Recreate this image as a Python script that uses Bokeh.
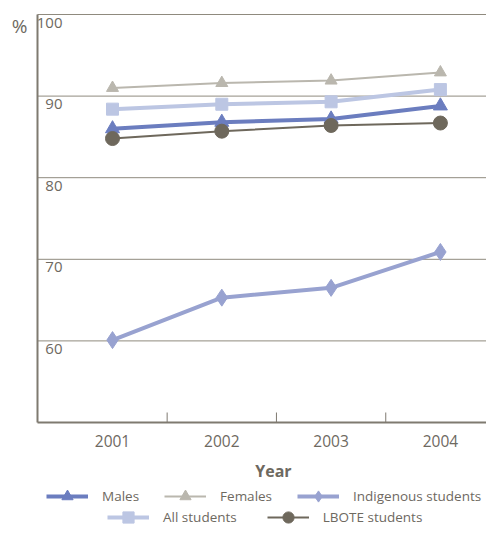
import math
from bokeh.plotting import figure
from bokeh.models import ColumnDataSource, Range1d, Legend, LegendItem
from bokeh.core.properties import value
from bokeh.embed import file_html
from bokeh.resources import INLINE

years = ["2001", "2002", "2003", "2004"]
males = [86.0, 86.8, 87.2, 88.8]
females = [91.0, 91.6, 91.9, 92.9]
indigenous = [60.1, 65.3, 66.5, 70.9]
all_students = [88.4, 89.0, 89.3, 90.8]
lbote = [84.8, 85.7, 86.4, 86.7]
y_ticks = [60, 70, 80, 90, 100]
minor_x = [0.5, 1.5, 2.5]

FONT = "Open Sans"
TXT = "#6e695f"
GRID = "#8f8a7e"
AXIS = "#7f7a70"

W, H = 486, 525
# pixel layout of the plotting area inside the figure
AX_LEFT_PX, FIRST_CAT_PX, CAT_STEP_PX = 37, 112, 109.3
TOP_PX, BOT_PX = 14, 422
Y_LO, Y_HI = 50, 100

xs = list(range(len(years)))
ppu_y = (BOT_PX - TOP_PX) / (Y_HI - Y_LO)
x_start = -FIRST_CAT_PX / CAT_STEP_PX
x_end = (W - FIRST_CAT_PX) / CAT_STEP_PX
x_axis = -(FIRST_CAT_PX - AX_LEFT_PX) / CAT_STEP_PX
y_end = Y_HI + TOP_PX / ppu_y
y_start = Y_HI - (H - TOP_PX) / ppu_y

p = figure(width=W, height=H, output_backend="svg", toolbar_location=None,
           x_range=Range1d(x_start, x_end), y_range=Range1d(y_start, y_end),
           x_axis_location=None, y_axis_location=None,
           min_border=0)
p.outline_line_color = None
p.grid.visible = False
p.background_fill_color = "white"
p.border_fill_color = "white"

# gridlines
n = len(y_ticks)
p.segment(x0=[x_axis] * n, x1=[x_end] * n, y0=y_ticks, y1=y_ticks,
          line_color=GRID, line_width=1)
# axes lines
p.segment(x0=[x_axis, x_axis], x1=[x_axis, x_end], y0=[Y_LO, Y_LO], y1=[Y_HI, Y_LO],
          line_color=AXIS, line_width=2)
# minor ticks between categories
p.ray(x=minor_x, y=[Y_LO] * len(minor_x), length=10, length_units="screen",
      angle=math.pi / 2, line_color=AXIS, line_width=1)

# y tick labels inside plot
p.text(x=[x_axis] * n, y=y_ticks, text=[str(v) for v in y_ticks], x_offset=25, y_offset=3,
       text_align="right", text_baseline="top", text_font=value(FONT),
       text_font_size="15px", text_color=TXT)
# % label
p.text(x=[x_axis], y=[Y_HI], text=["%"], x_offset=-10, y_offset=11,
       text_align="right", text_baseline="middle", text_font=value(FONT),
       text_font_size="19px", text_color=TXT)
# x tick labels
p.text(x=xs, y=[Y_LO] * len(xs), text=years, y_offset=18,
       text_align="center", text_baseline="middle", text_font=value(FONT),
       text_font_size="15.5px", text_color=TXT)
# axis title
p.text(x=[(xs[0] + xs[-1]) / 2], y=[Y_LO], text=["Year"], x_offset=-3, y_offset=48,
       text_align="center", text_baseline="middle", text_font=value(FONT),
       text_font_size="16px", text_font_style="bold", text_color=TXT)

def series(vals, color, lw, marker, size):
    src = ColumnDataSource(dict(x=xs, y=vals))
    r1 = p.line("x", "y", source=src, line_color=color, line_width=lw)
    r2 = p.scatter("x", "y", source=src, marker=marker, size=size,
                   fill_color=color, line_color=color)
    return [r1, r2]

r_f = series(females, "#bab7ae", 2, "triangle", 12)
r_a = series(all_students, "#bcc6e3", 4, "square", 12)
r_i = series(indigenous, "#98a2d0", 4, "diamond", 17)
r_m = series(males, "#6b7dbf", 4, "triangle", 14)
r_l = series(lbote, "#6e685c", 2, "circle", 14)

def mk_legend(items, loc, spacing):
    return Legend(items=items, orientation="horizontal", location=loc,
                  label_text_font=FONT, label_text_font_size="13.5px",
                  label_text_color=TXT, glyph_width=42, glyph_height=28,
                  label_height=28, label_standoff=14, spacing=spacing,
                  padding=0, margin=0, border_line_color=None,
                  background_fill_alpha=0)

lg1 = mk_legend([LegendItem(label="Males", renderers=r_m),
                 LegendItem(label="Females", renderers=r_f),
                 LegendItem(label="Indigenous students", renderers=r_i)], (46, 15), 25)
lg2 = mk_legend([LegendItem(label="All students", renderers=r_a),
                 LegendItem(label="LBOTE students", renderers=r_l)], (107, -6), 30)
p.add_layout(lg1)
p.add_layout(lg2)

open("out.html", "w").write(file_html(p, INLINE))
